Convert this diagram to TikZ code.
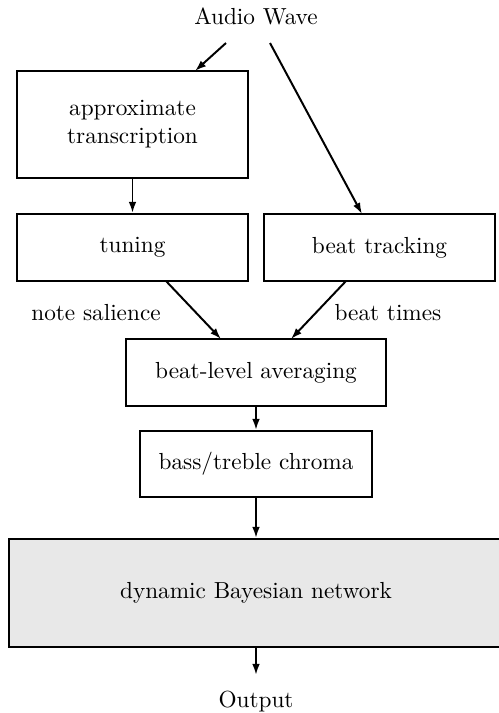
\documentclass[tikz,border=0pt]{standalone}
\usetikzlibrary{arrows.meta}
\definecolor{dbngray}{HTML}{E8E8E8}
\tikzset{
  box/.style={draw, line width=0.85pt, align=center, inner sep=0pt},
  conn/.style={line width=0.85pt, -{Latex[length=4.8pt,width=3.3pt]}},
  lbl/.style={inner sep=0pt}
}
\begin{document}
\begin{tikzpicture}[x=0.43pt,y=-0.43pt]
\useasboundingbox (0,0) rectangle (499,713);
\node[lbl] (audio) at (256,16) {Audio Wave};
\node[box, minimum width=99.33pt, minimum height=46.0pt] (approx) at (132.5,124.5) {approximate\\transcription};
\node[box, minimum width=99.33pt, minimum height=28.81pt] (tuning) at (132.5,247.5) {tuning};
\node[box, minimum width=99.33pt, minimum height=28.81pt] (beat) at (379.5,247.5) {beat tracking};
\node[box, minimum width=111.8pt, minimum height=28.81pt] (avg) at (256,372.5) {beat-level averaging};
\node[box, minimum width=99.76pt, minimum height=28.38pt] (bass) at (256,464) {bass/treble chroma};
\node[box, fill=dbngray, minimum width=212.42pt, minimum height=46.44pt] (dbn) at (256,593) {dynamic Bayesian network};
\node[lbl] (output) at (256,702) {Output};
\node[lbl] (ns) at (96,313) {note salience};
\node[lbl] (bt) at (388,313) {beat times};
\coordinate (a1) at (226,43);
\coordinate (a2) at (270,43);
\coordinate (e1) at (195,71);
\coordinate (e2) at (362,214);
\coordinate (t1) at (166,281);
\coordinate (t2) at (221,339);
\coordinate (b1) at (346,281);
\coordinate (b2) at (291,339);
\coordinate (o1) at (256,675);
\draw[conn] (a1) -- (e1);
\draw[conn] (a2) -- (e2);
\draw[conn] (approx.south) -- (tuning.north);
\draw[conn] (t1) -- (t2);
\draw[conn] (b1) -- (b2);
\draw[conn] (avg.south) -- (bass.north);
\draw[conn] (bass.south) -- (dbn.north);
\draw[conn] (dbn.south) -- (o1);
\end{tikzpicture}
\end{document}
